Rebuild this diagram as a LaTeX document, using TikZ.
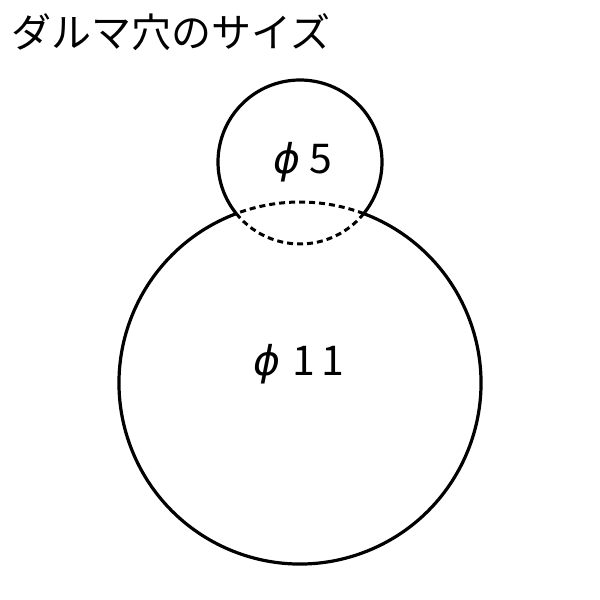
\documentclass[tikz,border=0pt]{standalone}
\usepackage{fontspec}
\setmainfont{Noto Sans CJK JP}
\newfontfamily\phifont{DejaVu Sans}
\begin{document}
\begin{tikzpicture}[x=0.5pt,y=-0.5pt,
  hole/.style={line width=1.6pt},
  hidden/.style={line width=1.5pt, dash pattern=on 3pt off 2pt},
  title/.style={inner sep=0pt, anchor=west, font=\fontsize{20pt}{22pt}\selectfont},
  size/.style={inner sep=0pt, anchor=base, font=\fontsize{20.5pt}{22pt}\selectfont}]
\useasboundingbox (0,0) rectangle (600,600);
\coordinate (B) at (300,383);
\coordinate (S) at (300,162);
\draw[hole] (B) ++(110.6:90.5pt) arc[start angle=110.6, end angle=429.4, radius=90.5pt];
\draw[hidden] (B) ++(69.4:90.5pt) arc[start angle=69.4, end angle=110.6, radius=90.5pt];
\draw[hole] (S) ++(-39:41pt) arc[start angle=-39, end angle=219, radius=41pt];
\draw[hidden] (S) ++(219:41pt) arc[start angle=219, end angle=321, radius=41pt];
\node[title] (t) at (11,32) {ダルマ穴のサイズ};
\node[size] (s) at (303,173) {{\phifont\itshape ϕ}\hspace{4.5pt}5};
\node[size] (b) at (299,375) {{\phifont\itshape ϕ}\hspace{6pt}1\hspace{3.5pt}1};
\end{tikzpicture}
\end{document}
